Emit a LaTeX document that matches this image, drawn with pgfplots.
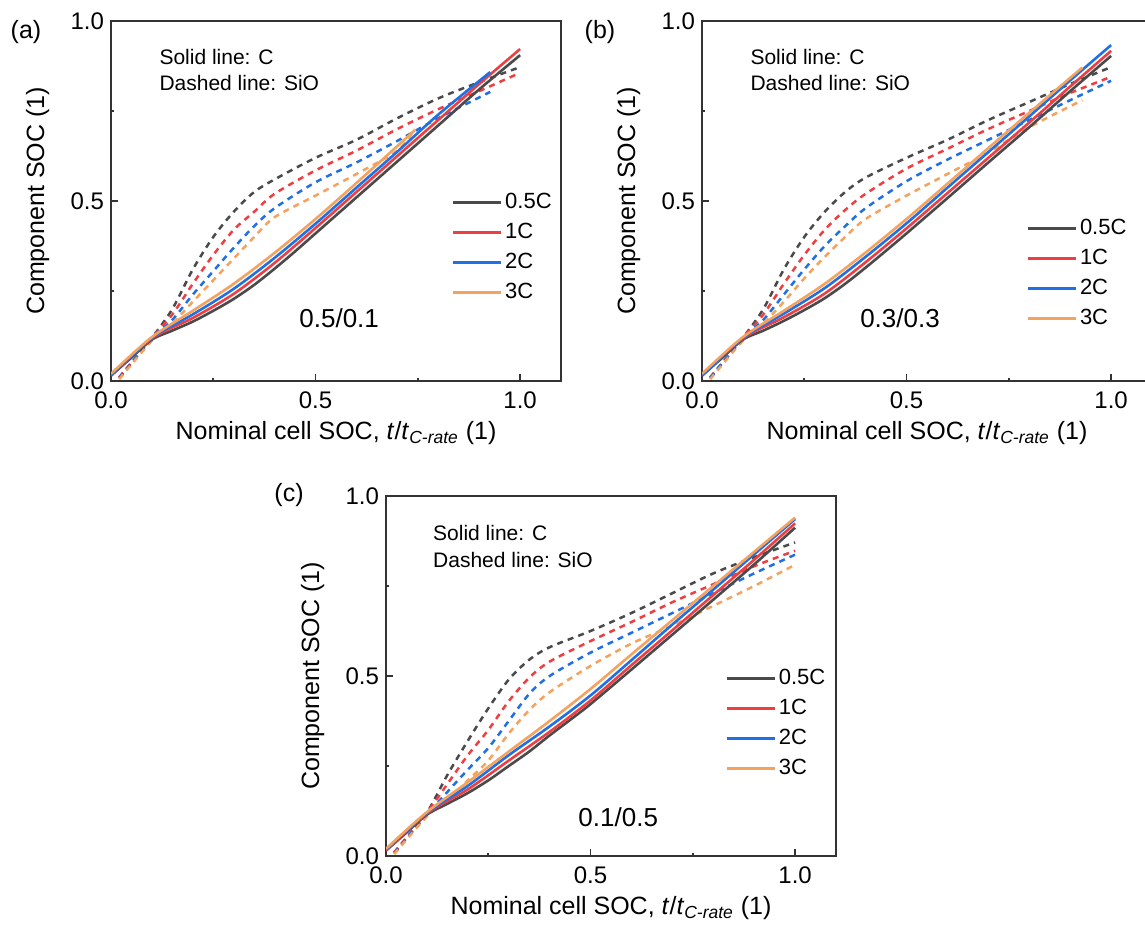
\documentclass[border=0pt]{standalone}
\usepackage{fontspec}
\setmainfont{Liberation Sans}
\usepackage{pgfplots}
\pgfplotsset{compat=1.18}
\definecolor{cK}{HTML}{4A4A4A}
\definecolor{cR}{HTML}{EF3E42}
\definecolor{cB}{HTML}{1F6FE5}
\definecolor{cO}{HTML}{F4A25E}
\definecolor{axc}{HTML}{333333}
\tikzset{ann/.style={anchor=west, inner sep=0pt, font=\fontsize{10.5}{12}\selectfont}}
\pgfplotsset{
 panel/.style={
  scale only axis, width=225pt, height=180pt,
  xmin=0, xmax=1.1, ymin=0, ymax=1,
  xtick={0,0.5,1}, ytick={0,0.5,1},
  minor xtick={0.25,0.75}, minor ytick={0.25,0.75},
  xtick pos=bottom, ytick pos=left, tick align=inside,
  major tick length=3.5pt, minor tick length=1.5pt,
  axis line style={axc, line width=0.8pt},
  every tick/.style={axc, line width=0.8pt},
  /pgf/number format/fixed, /pgf/number format/fixed zerofill,
  /pgf/number format/precision=1, /pgf/number format/assume math mode=true,
  tick label style={font=\fontsize{12}{14}\selectfont},
  xticklabel style={yshift=-2pt},
  xlabel={Nominal cell SOC, \textit{t}/\textit{t}\textsubscript{\textit{C-rate}} (1)},
  ylabel={Component SOC (1)},
  label style={font=\fontsize{12.5}{15}\selectfont},
  xlabel style={at={(axis description cs:0.5,-0.144)}, anchor=center},
  ylabel style={at={(axis description cs:-0.163,0.5)}, anchor=center},
  legend image code/.code={\draw[#1] (0pt,0pt) -- (24pt,0pt);},
  legend style={draw=none, fill=none, font=\fontsize{11}{13}\selectfont, anchor=north west, row sep=2.8pt, inner sep=0pt, nodes={inner sep=1.5pt}},
  legend cell align=left,
 },
 sol/.style={line width=1.3pt, smooth},
 das/.style={line width=1.25pt, dash pattern=on 3pt off 2.6pt, smooth, forget plot},
}
\begin{document}
\begin{tikzpicture}
% ---------------- (a) ----------------
\begin{axis}[panel, at={(55.5pt,274.5pt)}, anchor=south west, legend style={at={(0.756,0.53)}}]
\addplot[cK, das] coordinates {(0.02,0.01)(0.05,0.05)(0.1,0.12)(0.15,0.2)(0.2,0.31)(0.25,0.4)(0.3,0.47)(0.35,0.525)(0.4,0.56)(0.5,0.62)(0.6,0.67)(0.7,0.73)(0.8,0.785)(0.9,0.83)(1,0.872)};
\addplot[cR, das] coordinates {(0.02,0.01)(0.1,0.12)(0.15,0.185)(0.2,0.27)(0.25,0.35)(0.3,0.42)(0.35,0.47)(0.4,0.52)(0.5,0.585)(0.6,0.64)(0.7,0.7)(0.8,0.755)(0.9,0.805)(0.988,0.85)};
\addplot[cB, das] coordinates {(0.02,0.008)(0.1,0.118)(0.15,0.17)(0.2,0.24)(0.25,0.305)(0.3,0.37)(0.35,0.43)(0.4,0.48)(0.5,0.552)(0.6,0.607)(0.7,0.667)(0.8,0.73)(0.927,0.803)};
\addplot[cO, das] coordinates {(0.02,0.005)(0.1,0.112)(0.15,0.16)(0.2,0.22)(0.25,0.28)(0.3,0.34)(0.35,0.4)(0.4,0.455)(0.5,0.515)(0.6,0.575)(0.7,0.64)(0.743,0.7)};
\addplot[cK, sol] coordinates {(0,0.015)(0.05,0.065)(0.1,0.115)(0.15,0.14)(0.2,0.165)(0.25,0.195)(0.3,0.228)(0.35,0.267)(0.4,0.312)(0.45,0.36)(0.5,0.41)(0.6,0.51)(0.7,0.61)(0.8,0.71)(0.9,0.81)(1,0.905)};
\addlegendentry{0.5C}
\addplot[cR, sol] coordinates {(0,0.015)(0.1,0.118)(0.2,0.175)(0.3,0.242)(0.4,0.328)(0.5,0.425)(0.6,0.525)(0.7,0.625)(0.8,0.725)(0.9,0.825)(1,0.922)};
\addlegendentry{1C}
\addplot[cB, sol] coordinates {(0,0.015)(0.1,0.12)(0.2,0.185)(0.3,0.256)(0.4,0.342)(0.5,0.437)(0.6,0.537)(0.7,0.637)(0.8,0.74)(0.927,0.858)};
\addlegendentry{2C}
\addplot[cO, sol] coordinates {(0,0.02)(0.1,0.122)(0.2,0.195)(0.3,0.27)(0.4,0.356)(0.5,0.45)(0.6,0.55)(0.743,0.697)};
\addlegendentry{3C}
\node[ann] at (rel axis cs:0.107,0.9) {Solid line: C};
\node[ann] at (rel axis cs:0.107,0.828) {Dashed line: SiO};
\node[font=\fontsize{13}{15}\selectfont] at (rel axis cs:0.507,0.175) {0.5/0.1};
\end{axis}
% ---------------- (b) ----------------
\begin{axis}[panel, at={(351pt,274.5pt)}, anchor=south west, legend style={at={(0.72,0.458)}}]
\addplot[cK, das] coordinates {(0.02,0.01)(0.05,0.05)(0.1,0.12)(0.15,0.2)(0.2,0.31)(0.25,0.4)(0.3,0.47)(0.35,0.525)(0.4,0.565)(0.5,0.62)(0.6,0.67)(0.7,0.725)(0.8,0.775)(0.9,0.825)(1,0.872)};
\addplot[cR, das] coordinates {(0.02,0.01)(0.1,0.12)(0.15,0.185)(0.2,0.27)(0.25,0.35)(0.3,0.42)(0.35,0.475)(0.4,0.52)(0.5,0.59)(0.6,0.645)(0.7,0.7)(0.8,0.75)(0.9,0.8)(1,0.845)};
\addplot[cB, das] coordinates {(0.02,0.008)(0.1,0.118)(0.15,0.17)(0.2,0.24)(0.25,0.31)(0.3,0.375)(0.35,0.43)(0.4,0.48)(0.5,0.555)(0.6,0.615)(0.7,0.67)(0.8,0.725)(0.9,0.78)(1,0.834)};
\addplot[cO, das] coordinates {(0.02,0.005)(0.1,0.112)(0.15,0.16)(0.2,0.22)(0.25,0.285)(0.3,0.345)(0.35,0.4)(0.4,0.45)(0.5,0.515)(0.6,0.575)(0.7,0.635)(0.8,0.705)(0.93,0.78)};
\addplot[cK, sol] coordinates {(0,0.015)(0.05,0.065)(0.1,0.115)(0.15,0.14)(0.2,0.167)(0.25,0.197)(0.3,0.23)(0.35,0.27)(0.4,0.315)(0.45,0.362)(0.5,0.41)(0.6,0.508)(0.7,0.607)(0.8,0.705)(0.9,0.805)(1,0.903)};
\addlegendentry{0.5C}
\addplot[cR, sol] coordinates {(0,0.015)(0.1,0.118)(0.2,0.177)(0.3,0.243)(0.4,0.33)(0.5,0.424)(0.6,0.522)(0.7,0.62)(0.8,0.718)(0.9,0.818)(1,0.917)};
\addlegendentry{1C}
\addplot[cB, sol] coordinates {(0,0.015)(0.1,0.12)(0.2,0.187)(0.3,0.258)(0.4,0.345)(0.5,0.438)(0.6,0.537)(0.7,0.636)(0.8,0.735)(0.9,0.835)(1,0.933)};
\addlegendentry{2C}
\addplot[cO, sol] coordinates {(0,0.02)(0.1,0.122)(0.2,0.195)(0.3,0.27)(0.4,0.357)(0.5,0.45)(0.6,0.548)(0.7,0.647)(0.8,0.745)(0.93,0.871)};
\addlegendentry{3C}
\node[ann] at (rel axis cs:0.107,0.9) {Solid line: C};
\node[ann] at (rel axis cs:0.107,0.828) {Dashed line: SiO};
\node[font=\fontsize{13}{15}\selectfont] at (rel axis cs:0.44,0.175) {0.3/0.3};
\end{axis}
% ---------------- (c) ----------------
\begin{axis}[panel, at={(193pt,37pt)}, anchor=south west, legend style={at={(0.753,0.528)}}]
\addplot[cK, das] coordinates {(0.02,0.01)(0.05,0.05)(0.1,0.12)(0.15,0.225)(0.2,0.32)(0.25,0.41)(0.3,0.49)(0.35,0.545)(0.4,0.58)(0.5,0.625)(0.6,0.675)(0.7,0.73)(0.8,0.785)(0.9,0.83)(1,0.871)};
\addplot[cR, das] coordinates {(0.02,0.01)(0.1,0.12)(0.15,0.2)(0.2,0.28)(0.25,0.35)(0.3,0.43)(0.35,0.495)(0.4,0.54)(0.5,0.597)(0.6,0.65)(0.7,0.705)(0.8,0.755)(0.9,0.805)(1,0.848)};
\addplot[cB, das] coordinates {(0.02,0.008)(0.1,0.115)(0.15,0.178)(0.2,0.24)(0.25,0.3)(0.3,0.375)(0.35,0.45)(0.4,0.5)(0.5,0.565)(0.6,0.62)(0.7,0.675)(0.8,0.73)(0.9,0.785)(1,0.837)};
\addplot[cO, das] coordinates {(0.02,0.005)(0.1,0.11)(0.15,0.155)(0.2,0.21)(0.25,0.265)(0.3,0.34)(0.35,0.405)(0.4,0.455)(0.5,0.528)(0.6,0.59)(0.7,0.64)(0.8,0.695)(0.9,0.75)(1,0.809)};
\addplot[cK, sol] coordinates {(0,0.015)(0.05,0.065)(0.1,0.115)(0.15,0.145)(0.2,0.175)(0.25,0.21)(0.3,0.25)(0.35,0.29)(0.4,0.335)(0.45,0.378)(0.5,0.422)(0.6,0.518)(0.7,0.615)(0.8,0.712)(0.9,0.81)(1,0.912)};
\addlegendentry{0.5C}
\addplot[cR, sol] coordinates {(0,0.015)(0.1,0.118)(0.2,0.185)(0.3,0.265)(0.4,0.345)(0.5,0.432)(0.6,0.53)(0.7,0.627)(0.8,0.725)(0.9,0.823)(1,0.924)};
\addlegendentry{1C}
\addplot[cB, sol] coordinates {(0,0.018)(0.1,0.12)(0.2,0.195)(0.3,0.28)(0.4,0.36)(0.5,0.446)(0.6,0.544)(0.7,0.643)(0.8,0.74)(0.9,0.838)(1,0.936)};
\addlegendentry{2C}
\addplot[cO, sol] coordinates {(0,0.02)(0.1,0.122)(0.2,0.205)(0.3,0.29)(0.4,0.375)(0.5,0.464)(0.6,0.56)(0.7,0.655)(0.8,0.75)(0.9,0.845)(1,0.94)};
\addlegendentry{3C}
\node[ann] at (rel axis cs:0.104,0.898) {Solid line: C};
\node[ann] at (rel axis cs:0.104,0.823) {Dashed line: SiO};
\node[font=\fontsize{13}{15}\selectfont] at (rel axis cs:0.516,0.108) {0.1/0.5};
\end{axis}
\node[font=\fontsize{12.5}{15}\selectfont] at (13pt,449pt) {(a)};
\node[font=\fontsize{12.5}{15}\selectfont] at (300pt,449pt) {(b)};
\node[font=\fontsize{12.5}{15}\selectfont] at (144.5pt,217.5pt) {(c)};
\pgfresetboundingbox
\useasboundingbox (0pt,0pt) rectangle (572.5pt,465pt);
\end{tikzpicture}
\end{document}
